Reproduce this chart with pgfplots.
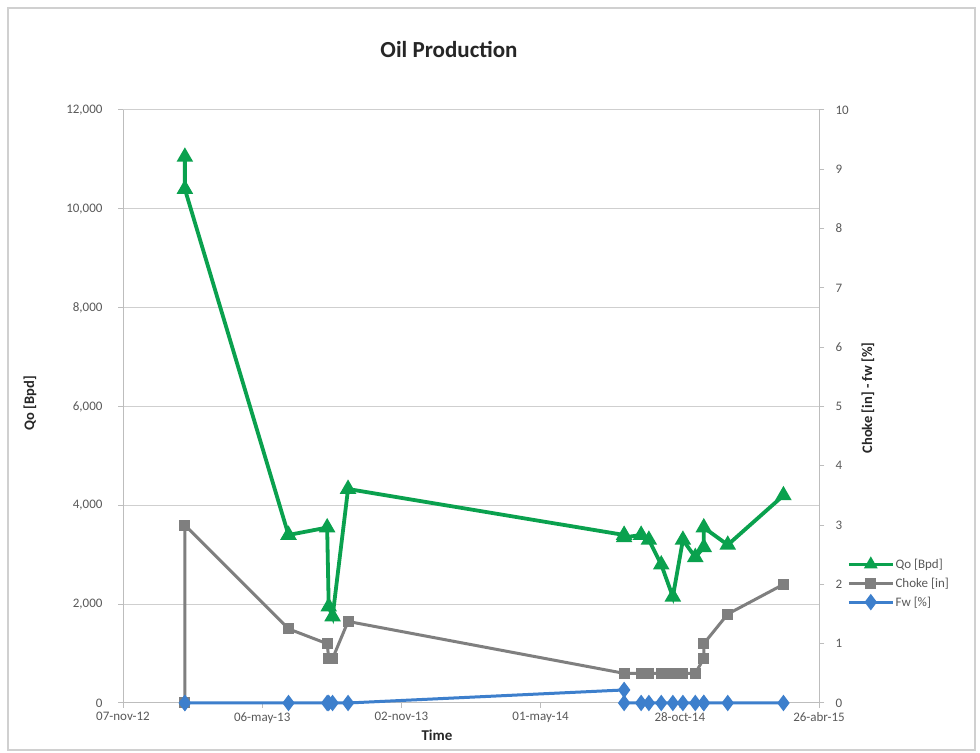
\documentclass[border=0pt]{standalone}
\usepackage{fontspec}
\setmainfont{Carlito}
\usepackage{pgfplots}
\usepackage{pgfplotstable}
\pgfplotsset{compat=1.18}
\definecolor{qogreen}{HTML}{0AA14E}
\definecolor{chokegray}{HTML}{7F7F7F}
\definecolor{fwblue}{HTML}{3D7FCC}
\definecolor{gridgray}{HTML}{CFCFCF}
\definecolor{axisgray}{HTML}{BDBDBD}
\definecolor{ticktext}{HTML}{595959}
\definecolor{framegray}{HTML}{D0D0D0}

\pgfplotstableread{
d qo choke fw
80 11050 0 0
80 10400 3 0
214 3400 1.25 0
264 3550 1.0 0
266 1950 0.75 0
271 1750 0.75 0
291 4330 1.375 0
648 3400 0.5 0.22
648 3350 0.5 0
670 3400 0.5 0
680 3300 0.5 0
696 2800 0.5 0
711 2150 0.5 0
724 3300 0.5 0
740 2950 0.5 0
751 3150 0.75 0
751 3550 1.0 0
782 3200 1.5 0
854 4200 2.0 0
}\data

\pgfplotsset{
  common/.style={
    width=696bp, height=593bp, scale only axis,
    xmin=0, xmax=900,
    axis line style={axisgray, line width=1bp},
    tick style={axisgray, line width=1bp},
    major tick length=5bp,
    tick align=outside,
    tick label style={font=\fontsize{13bp}{15bp}\selectfont, text=ticktext},
    /pgf/number format/assume math mode=true,
    /pgf/number format/1000 sep={,},
    scaled y ticks=false,
  }
}

\begin{document}
\begin{tikzpicture}[x=1bp,y=1bp]
\path[use as bounding box] (0,0) rectangle (980,753);
\fill[white] (0,0) rectangle (980,753);
\draw[framegray, line width=1.5bp] (8,3) rectangle (975,745);

\begin{axis}[common, at={(123bp,50bp)}, anchor=south west,
  ymin=0, ymax=12000, ytick={0,2000,...,12000},
  ymajorgrids, grid style={gridgray, line width=1bp},
  axis y line*=left, axis x line*=bottom,
  yticklabel style={xshift=-12bp},
  xticklabel style={yshift=-1bp},
  xtick={0,180,...,900},
  xticklabels={07-nov-12,06-may-13,02-nov-13,01-may-14,28-oct-14,26-abr-15},
  clip=false]
\addplot[qogreen, line width=3.8bp, mark=triangle*, mark size=5.8bp, mark options={solid}] table[x=d, y=qo] {\data};
\end{axis}

\begin{axis}[common, at={(123bp,50bp)}, anchor=south west,
  ymin=0, ymax=10, ytick={0,1,...,10},
  axis y line*=right, axis x line=none,
  yticklabel style={xshift=8bp},
  clip=false,
  legend style={at={(1.04,0.245)}, anchor=north west, draw=none, fill=none,
    font=\fontsize{13bp}{15bp}\selectfont, text=ticktext,
    row sep=6bp, inner sep=0pt,
    nodes={inner xsep=1bp, inner ysep=1bp}},
  legend cell align=left,
  legend image code/.code={\draw[mark repeat=2,mark phase=2,#1] plot coordinates {(0bp,0bp) (22bp,0bp) (44bp,0bp)};}]
\addlegendimage{qogreen, line width=3.5bp, mark=triangle*, mark size=4.5bp}
\addlegendentry{Qo [Bpd]}
\addplot[chokegray, line width=3bp, mark=square*, mark size=4bp] table[x=d, y=choke] {\data};
\addlegendentry{Choke [in]}
\addplot[fwblue, line width=3bp, mark=diamond*, mark size=5.8bp] table[x=d, y=fw] {\data};
\addlegendentry{Fw [\%]}
\end{axis}

\node[font=\fontsize{23bp}{27bp}\selectfont\bfseries, text=black!85] at (449,703) {Oil Production};
\node[font=\fontsize{15bp}{17bp}\selectfont\bfseries, text=black!85] at (437,18) {Time};
\node[rotate=90, font=\fontsize{14.5bp}{17bp}\selectfont\bfseries, text=black!85] at (30,350) {Qo [Bpd]};
\node[rotate=90, font=\fontsize{14.5bp}{17bp}\selectfont\bfseries, text=black!85] at (868,355) {Choke [in] - fw [\%]};
\end{tikzpicture}
\end{document}
